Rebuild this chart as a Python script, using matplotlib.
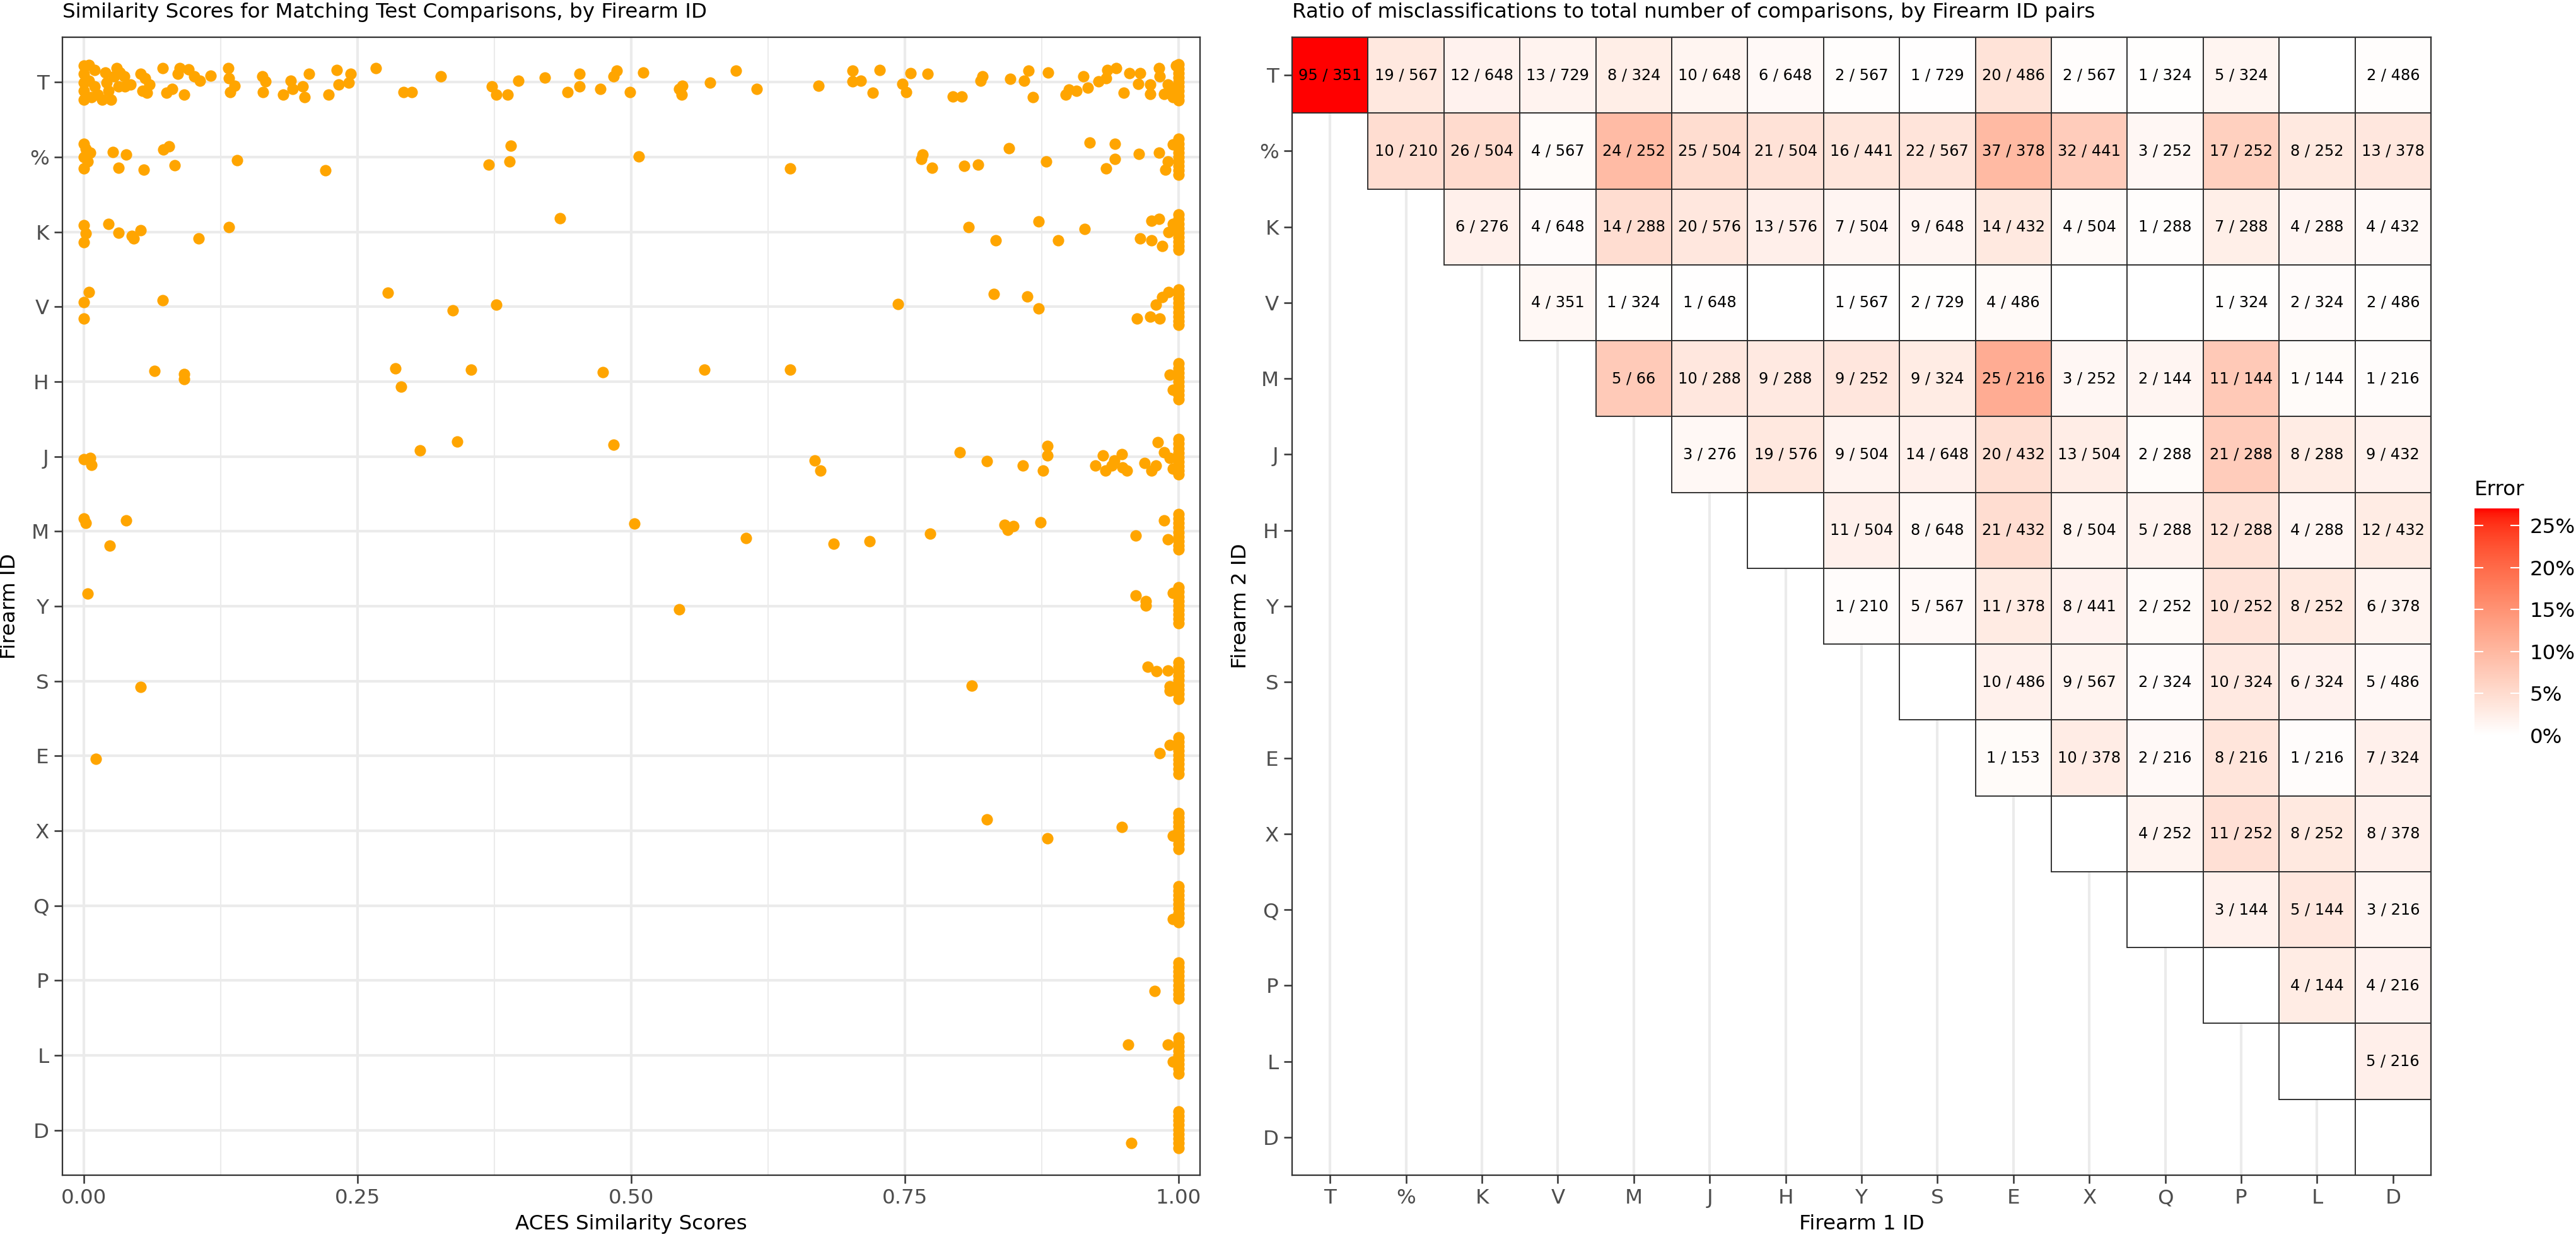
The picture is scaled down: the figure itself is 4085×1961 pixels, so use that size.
import numpy as np
import matplotlib
matplotlib.use("Agg")
import matplotlib.pyplot as plt
from matplotlib.colors import ListedColormap, Normalize
from matplotlib.cm import ScalarMappable
from matplotlib.ticker import FuncFormatter

# ---------------- data ----------------
# left panel: firearm order (top to bottom)
ids_left = ['T', '%', 'K', 'V', 'H', 'J', 'M', 'Y', 'S', 'E', 'X', 'Q', 'P', 'L', 'D']

# (ACES score, vertical jitter in category units; + is up)
pts_T = [(0.000, 0.22), (0.000, 0.11), (0.000, -0.01), (0.000, -0.12), (0.000, -0.23),
         (0.005, 0.23), (0.005, 0.02), (0.007, -0.20), (0.010, 0.16), (0.010, -0.06),
         (0.013, -0.17), (0.017, -0.23), (0.020, 0.13), (0.021, -0.01), (0.023, -0.12),
         (0.025, -0.23), (0.028, 0.08), (0.030, 0.19), (0.032, -0.06), (0.033, 0.13),
         (0.037, 0.08), (0.038, -0.06), (0.043, -0.03), (0.052, 0.11), (0.054, -0.12),
         (0.056, 0.05), (0.058, -0.14), (0.060, -0.03), (0.072, 0.19), (0.076, -0.14),
         (0.081, -0.09), (0.086, 0.11), (0.088, 0.19), (0.092, -0.17), (0.096, 0.17),
         (0.101, 0.08), (0.106, 0.02), (0.116, 0.09), (0.132, 0.19), (0.133, 0.05),
         (0.134, -0.13), (0.138, -0.05), (0.163, 0.08), (0.164, -0.13), (0.166, 0.01),
         (0.182, -0.17), (0.189, 0.02), (0.191, -0.09), (0.200, -0.06), (0.202, -0.20),
         (0.206, 0.11), (0.224, -0.17), (0.231, 0.16), (0.233, -0.03), (0.244, 0.11),
         (0.242, -0.01), (0.267, 0.19), (0.292, -0.13), (0.300, -0.13), (0.326, 0.08),
         (0.373, -0.06), (0.377, -0.17), (0.387, -0.17), (0.397, 0.02), (0.421, 0.06),
         (0.442, -0.13), (0.453, 0.11), (0.453, -0.06), (0.472, -0.09), (0.484, 0.08),
         (0.487, 0.15), (0.499, -0.13), (0.511, 0.13), (0.544, -0.09), (0.546, -0.17),
         (0.547, -0.05), (0.572, -0.01), (0.596, 0.15), (0.615, -0.09), (0.671, -0.05),
         (0.702, 0.15), (0.702, 0.01), (0.710, 0.02), (0.721, -0.14), (0.727, 0.16),
         (0.748, -0.02), (0.751, -0.13), (0.755, 0.12), (0.771, 0.11), (0.794, -0.19),
         (0.802, -0.19), (0.819, 0.02), (0.821, 0.08), (0.846, 0.04), (0.859, 0.02),
         (0.863, 0.15), (0.867, -0.20), (0.881, 0.13), (0.897, -0.17), (0.900, -0.10),
         (0.907, -0.12), (0.913, 0.08), (0.917, -0.07), (0.927, 0.01), (0.934, 0.05),
         (0.935, 0.16), (0.943, 0.19), (0.950, -0.14), (0.955, 0.12), (0.963, -0.02),
         (0.965, 0.12), (0.974, -0.03), (0.974, -0.16), (0.982, 0.19), (0.983, 0.08),
         (0.987, -0.16), (0.990, -0.03), (0.994, -0.09), (0.998, 0.22), (0.995, -0.20),
         (1.000, 0.24), (1.000, 0.18), (1.000, 0.12), (1.000, 0.06), (1.000, 0.00),
         (1.000, -0.06), (1.000, -0.12), (1.000, -0.18), (1.000, -0.24)]
pts_pct = [(0.000, 0.18), (0.002, 0.11), (0.000, 0.00), (0.000, -0.15), (0.004, -0.06),
           (0.006, 0.06), (0.027, 0.07), (0.032, -0.14), (0.039, 0.03), (0.055, -0.17),
           (0.073, 0.10), (0.078, 0.14), (0.083, -0.11), (0.140, -0.04), (0.221, -0.18),
           (0.370, -0.10), (0.389, -0.06), (0.390, 0.15), (0.507, 0.01), (0.645, -0.15),
           (0.765, -0.03), (0.766, 0.03), (0.775, -0.14), (0.804, -0.12), (0.817, -0.10),
           (0.845, 0.12), (0.879, -0.06), (0.919, 0.19), (0.934, -0.15), (0.942, 0.18),
           (0.942, -0.03), (0.964, 0.04), (0.982, 0.06), (0.988, -0.17), (0.990, -0.06),
           (0.995, 0.17), (1.000, 0.24), (1.000, 0.18), (1.000, 0.12), (1.000, 0.06),
           (1.000, 0.00), (1.000, -0.06), (1.000, -0.12), (1.000, -0.18), (1.000, -0.24)]
pts_K = [(0.000, 0.09), (0.002, -0.02), (0.000, -0.14), (0.023, 0.11), (0.032, -0.01),
         (0.044, -0.05), (0.046, -0.09), (0.052, 0.02), (0.105, -0.09), (0.133, 0.06),
         (0.435, 0.18), (0.808, 0.06), (0.833, -0.11), (0.872, 0.14), (0.890, -0.11),
         (0.914, 0.04), (0.965, -0.09), (0.975, 0.15), (0.975, -0.11), (0.982, 0.17),
         (0.985, -0.19), (0.991, 0.00), (0.995, 0.11), (1.000, 0.23), (1.000, 0.17),
         (1.000, 0.11), (1.000, 0.05), (1.000, -0.01), (1.000, -0.07), (1.000, -0.13),
         (1.000, -0.19), (1.000, -0.24)]
pts_V = [(0.005, 0.20), (0.000, 0.06), (0.000, -0.16), (0.072, 0.09), (0.278, 0.19),
         (0.337, -0.05), (0.377, 0.03), (0.744, 0.04), (0.831, 0.17), (0.862, 0.14),
         (0.872, -0.02), (0.962, -0.16), (0.974, -0.13), (0.979, 0.03), (0.983, -0.16),
         (0.985, 0.13), (0.991, 0.20), (1.000, 0.23), (1.000, 0.17), (1.000, 0.11),
         (1.000, 0.05), (1.000, -0.01), (1.000, -0.07), (1.000, -0.13), (1.000, -0.19),
         (1.000, -0.24)]
pts_H = [(0.065, 0.14), (0.092, 0.10), (0.092, 0.03), (0.285, 0.18), (0.290, -0.07),
         (0.354, 0.16), (0.474, 0.13), (0.567, 0.16), (0.645, 0.16), (0.992, 0.09),
         (0.995, -0.11), (1.000, 0.24), (1.000, 0.18), (1.000, 0.12), (1.000, 0.06),
         (1.000, 0.00), (1.000, -0.06), (1.000, -0.12), (1.000, -0.18), (1.000, -0.24)]
pts_J = [(0.000, -0.04), (0.006, -0.02), (0.007, -0.11), (0.307, 0.08), (0.341, 0.20),
         (0.484, 0.16), (0.668, -0.05), (0.673, -0.19), (0.800, 0.06), (0.825, -0.06),
         (0.858, -0.12), (0.876, -0.19), (0.880, 0.14), (0.880, 0.01), (0.924, -0.12),
         (0.931, 0.01), (0.933, -0.19), (0.939, -0.12), (0.941, -0.05), (0.948, 0.03),
         (0.949, -0.15), (0.953, -0.19), (0.969, -0.09), (0.975, -0.19), (0.979, -0.12),
         (0.981, 0.19), (0.987, 0.06), (0.992, -0.02), (0.995, -0.16), (1.000, 0.23),
         (1.000, 0.17), (1.000, 0.11), (1.000, 0.05), (1.000, -0.01), (1.000, -0.07),
         (1.000, -0.13), (1.000, -0.19), (1.000, -0.24)]
pts_M = [(0.000, 0.17), (0.002, 0.11), (0.024, -0.19), (0.039, 0.15), (0.503, 0.10),
         (0.605, -0.09), (0.685, -0.17), (0.718, -0.13), (0.773, -0.03), (0.841, 0.09),
         (0.844, 0.02), (0.849, 0.07), (0.874, 0.12), (0.961, -0.06), (0.987, 0.15),
         (0.990, -0.11), (1.000, 0.23), (1.000, 0.17), (1.000, 0.11), (1.000, 0.05),
         (1.000, -0.01), (1.000, -0.07), (1.000, -0.13), (1.000, -0.19), (1.000, -0.24)]
pts_Y = [(0.004, 0.17), (0.544, -0.04), (0.961, 0.14), (0.970, 0.07), (0.970, 0.01),
         (0.995, 0.18), (1.000, 0.25), (1.000, 0.19), (1.000, 0.13), (1.000, 0.07),
         (1.000, 0.01), (1.000, -0.05), (1.000, -0.11), (1.000, -0.17), (1.000, -0.23)]
pts_S = [(0.052, -0.08), (0.811, -0.06), (0.972, 0.19), (0.980, 0.13), (0.990, 0.14),
         (0.992, -0.07), (0.992, -0.13), (1.000, 0.25), (1.000, 0.19), (1.000, 0.13),
         (1.000, 0.07), (1.000, 0.01), (1.000, -0.05), (1.000, -0.11), (1.000, -0.17),
         (1.000, -0.24)]
pts_E = [(0.011, -0.04), (0.983, 0.04), (0.992, 0.15), (1.000, 0.25), (1.000, 0.19),
         (1.000, 0.13), (1.000, 0.07), (1.000, 0.01), (1.000, -0.05), (1.000, -0.11),
         (1.000, -0.17), (1.000, -0.24)]
pts_X = [(0.825, 0.15), (0.880, -0.10), (0.948, 0.05), (0.995, -0.07), (1.000, 0.24),
         (1.000, 0.18), (1.000, 0.12), (1.000, 0.06), (1.000, 0.00), (1.000, -0.06),
         (1.000, -0.12), (1.000, -0.18), (1.000, -0.24)]
pts_Q = [(0.995, -0.18), (1.000, 0.26), (1.000, 0.20), (1.000, 0.14), (1.000, 0.08),
         (1.000, 0.02), (1.000, -0.04), (1.000, -0.10), (1.000, -0.16), (1.000, -0.22)]
pts_P = [(0.978, -0.14), (1.000, 0.24), (1.000, 0.18), (1.000, 0.12), (1.000, 0.06),
         (1.000, 0.00), (1.000, -0.06), (1.000, -0.12), (1.000, -0.18), (1.000, -0.24)]
pts_L = [(0.954, 0.14), (0.990, 0.14), (0.995, -0.08), (1.000, 0.24), (1.000, 0.18),
         (1.000, 0.12), (1.000, 0.06), (1.000, 0.00), (1.000, -0.06), (1.000, -0.12),
         (1.000, -0.18), (1.000, -0.24)]
pts_D = [(0.957, -0.17), (1.000, 0.25), (1.000, 0.19), (1.000, 0.13), (1.000, 0.07),
         (1.000, 0.01), (1.000, -0.05), (1.000, -0.11), (1.000, -0.17), (1.000, -0.24)]

left_points = [pts_T, pts_pct, pts_K, pts_V, pts_H, pts_J, pts_M, pts_Y, pts_S,
               pts_E, pts_X, pts_Q, pts_P, pts_L, pts_D]

# right panel: firearm order for both axes
ids_heat = ['T', '%', 'K', 'V', 'M', 'J', 'H', 'Y', 'S', 'E', 'X', 'Q', 'P', 'L', 'D']

# row i (Firearm 2 ID) starts at column i (Firearm 1 ID); None = no label shown
errors_rows = [
    [95, 19, 12, 13, 8, 10, 6, 2, 1, 20, 2, 1, 5, 0, 2],
    [10, 26, 4, 24, 25, 21, 16, 22, 37, 32, 3, 17, 8, 13],
    [6, 4, 14, 20, 13, 7, 9, 14, 4, 1, 7, 4, 4],
    [4, 1, 1, 0, 1, 2, 4, 0, 0, 1, 2, 2],
    [5, 10, 9, 9, 9, 25, 3, 2, 11, 1, 1],
    [3, 19, 9, 14, 20, 13, 2, 21, 8, 9],
    [0, 11, 8, 21, 8, 5, 12, 4, 12],
    [1, 5, 11, 8, 2, 10, 8, 6],
    [0, 10, 9, 2, 10, 6, 5],
    [1, 10, 2, 8, 1, 7],
    [0, 4, 11, 8, 8],
    [0, 3, 5, 3],
    [0, 4, 4],
    [0, 5],
    [0],
]
totals_rows = [
    [351, 567, 648, 729, 324, 648, 648, 567, 729, 486, 567, 324, 324, None, 486],
    [210, 504, 567, 252, 504, 504, 441, 567, 378, 441, 252, 252, 252, 378],
    [276, 648, 288, 576, 576, 504, 648, 432, 504, 288, 288, 288, 432],
    [351, 324, 648, None, 567, 729, 486, None, None, 324, 324, 486],
    [66, 288, 288, 252, 324, 216, 252, 144, 144, 144, 216],
    [276, 576, 504, 648, 432, 504, 288, 288, 288, 432],
    [None, 504, 648, 432, 504, 288, 288, 288, 432],
    [210, 567, 378, 441, 252, 252, 252, 378],
    [None, 486, 567, 324, 324, 324, 486],
    [153, 378, 216, 216, 216, 324],
    [None, 252, 252, 252, 378],
    [None, 144, 144, 216],
    [None, 144, 216],
    [None, 216],
    [None],
]

legend_ticks = [0.0, 0.05, 0.10, 0.15, 0.20, 0.25]


# ---------------- white -> red gradient in CIE Lab (like ggplot) ----------------
M_RGB2XYZ = np.array([[0.4124564, 0.3575761, 0.1804375],
                      [0.2126729, 0.7151522, 0.0721750],
                      [0.0193339, 0.1191920, 0.9503041]])
WHITE_PT = np.array([0.95047, 1.0, 1.08883])


def srgb_to_lab(c):
    c = np.asarray(c, float)
    lin = np.where(c <= 0.04045, c / 12.92, ((c + 0.055) / 1.055) ** 2.4)
    t = (M_RGB2XYZ @ lin) / WHITE_PT
    d = 6 / 29
    f = np.where(t > d ** 3, np.cbrt(t), t / (3 * d * d) + 4 / 29)
    return np.array([116 * f[1] - 16, 500 * (f[0] - f[1]), 200 * (f[1] - f[2])])


def lab_to_srgb(lab):
    L, a, b = lab
    fy = (L + 16) / 116
    f = np.array([fy + a / 500, fy, fy - b / 200])
    d = 6 / 29
    t = np.where(f > d, f ** 3, 3 * d * d * (f - 4 / 29))
    lin = np.linalg.inv(M_RGB2XYZ) @ (t * WHITE_PT)
    lin = np.clip(lin, 0, None)
    c = np.where(lin <= 0.0031308, 12.92 * lin, 1.055 * lin ** (1 / 2.4) - 0.055)
    return np.clip(c, 0, 1)


lab_lo = srgb_to_lab([1, 1, 1])
lab_hi = srgb_to_lab([1, 0, 0])
cmap = ListedColormap([lab_to_srgb(lab_lo + (lab_hi - lab_lo) * s)
                       for s in np.linspace(0, 1, 256)])

# ---------------- figure ----------------
W, H, DPI = 4085, 1961, 300
fig = plt.figure(figsize=(W / DPI, H / DPI), dpi=DPI)
plt.rcParams['font.family'] = ['DejaVu Sans']

FS = 7.8
TICK_COL = '#4D4D4D'
GRID_COL = '#EBEBEB'
BORDER = '#333333'


def px_box(x0, y0, x1, y1):
    return [x0 / W, 1 - y1 / H, (x1 - x0) / W, (y1 - y0) / H]


def style_axes(ax):
    for s in ax.spines.values():
        s.set_color(BORDER)
        s.set_linewidth(0.55)
    ax.tick_params(length=3.1, width=0.6, color=BORDER, labelsize=FS,
                   labelcolor=TICK_COL, pad=2.0)


# ---- left panel: jittered similarity scores ----
ax1 = fig.add_axes(px_box(99, 59, 1903, 1863))
xs, ys = [], []
for k, pts in enumerate(left_points):
    for score, dy in pts:
        xs.append(score)
        ys.append(k - dy)
ax1.scatter(xs, ys, s=19, color='#FFA500', linewidths=0, zorder=3)
ax1.set_xlim(-0.0193, 1.0196)
ax1.set_ylim(len(ids_left) - 0.4, -0.6)
ax1.set_yticks(range(len(ids_left)))
ax1.set_yticklabels(ids_left)
ax1.set_xticks([0, 0.25, 0.5, 0.75, 1.0])
ax1.set_xticklabels(['0.00', '0.25', '0.50', '0.75', '1.00'])
ax1.set_xticks([0.125, 0.375, 0.625, 0.875], minor=True)
ax1.tick_params(axis='x', which='minor', length=0)
ax1.set_axisbelow(True)
ax1.grid(which='major', color=GRID_COL, linewidth=1.0)
ax1.grid(which='minor', axis='x', color=GRID_COL, linewidth=0.5)
style_axes(ax1)

# ---- right panel: misclassification tiles ----
ax2 = fig.add_axes(px_box(2049, 59, 3855, 1863))
n = len(ids_heat)
all_ratios = [e / t if t else 0.0
              for er, tr in zip(errors_rows, totals_rows) for e, t in zip(er, tr)]
norm = Normalize(vmin=0, vmax=max(all_ratios))
for i in range(n):
    cols = [i + k for k in range(len(errors_rows[i]))]
    vals = [e / t if t else 0.0 for e, t in zip(errors_rows[i], totals_rows[i])]
    ax2.bar(cols, 1.0, bottom=i - 0.5, width=1.0, color=cmap(norm(vals)),
            edgecolor='#2b2b2b', linewidth=0.45, zorder=2)
    for c, e, t in zip(cols, errors_rows[i], totals_rows[i]):
        if t:
            ax2.text(c, i, f'{e} / {t}', ha='center', va='center',
                     fontsize=5.8, color='black', zorder=3)
ax2.set_xlim(-0.5, n - 0.5)
ax2.set_ylim(n - 0.5, -0.5)
ax2.set_xticks(range(n))
ax2.set_xticklabels(ids_heat)
ax2.set_yticks(range(n))
ax2.set_yticklabels(ids_heat)
ax2.set_axisbelow(True)
ax2.grid(axis='x', color=GRID_COL, linewidth=1.0, zorder=0)
style_axes(ax2)

# ---- colourbar ----
cax = fig.add_axes(px_box(3924, 806, 3995, 1166))
sm = ScalarMappable(norm=norm, cmap=cmap)
cb = fig.colorbar(sm, cax=cax)
cb.outline.set_visible(False)
cb.set_ticks(legend_ticks)
cb.ax.yaxis.set_major_formatter(FuncFormatter(lambda v, p: f'{v * 100:.0f}%'))
cax.tick_params(axis='y', direction='in', left=True, right=True, color='white',
                length=3.3, width=0.5, labelsize=FS, labelcolor='black', pad=4)

# ---- titles and axis labels ----
fig.text(99 / W, 1 - 28 / H, 'Similarity Scores for Matching Test Comparisons, by Firearm ID',
         fontsize=FS, ha='left', va='baseline')
fig.text(2049 / W, 1 - 28 / H,
         'Ratio of misclassifications to total number of comparisons, by Firearm ID pairs',
         fontsize=FS, ha='left', va='baseline')
fig.text(1001 / W, 1 - 1940 / H, 'ACES Similarity Scores', fontsize=FS, ha='center', va='center')
fig.text(2952 / W, 1 - 1940 / H, 'Firearm 1 ID', fontsize=FS, ha='center', va='center')
fig.text(16 / W, 1 - 961 / H, 'Firearm ID', fontsize=FS, rotation=90, ha='center', va='center')
fig.text(1967 / W, 1 - 961 / H, 'Firearm 2 ID', fontsize=FS, rotation=90, ha='center', va='center')
fig.text(3924 / W, 1 - 776 / H, 'Error', fontsize=FS, ha='left', va='center')

fig.savefig('out.png', dpi=DPI, facecolor='white')
